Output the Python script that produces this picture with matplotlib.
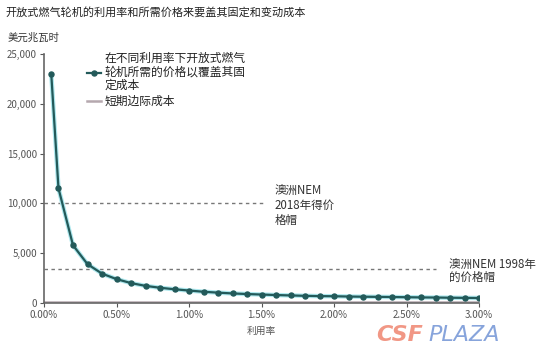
import matplotlib
matplotlib.use("Agg")
import matplotlib.pyplot as plt
from matplotlib.ticker import FuncFormatter, FixedLocator

plt.rcParams['font.family'] = ['Noto Sans CJK SC', 'DejaVu Sans']

# Data
utilization = [0.05, 0.1, 0.2, 0.3, 0.4, 0.5, 0.6, 0.7, 0.8, 0.9, 1.0,
               1.1, 1.2, 1.3, 1.4, 1.5, 1.6, 1.7, 1.8, 1.9, 2.0,
               2.1, 2.2, 2.3, 2.4, 2.5, 2.6, 2.7, 2.8, 2.9, 3.0]
required_price = [23000, 11500, 5800, 3900, 2950, 2400, 2000, 1720, 1530, 1380, 1250,
                  1130, 1040, 960, 900, 850, 800, 760, 720, 690, 680,
                  650, 630, 615, 600, 580, 560, 550, 530, 515, 500]
srmc = 80
cap_2018 = 10000
cap_1998 = 3400
x_ticks = [0.0, 0.5, 1.0, 1.5, 2.0, 2.5, 3.0]
y_ticks = [0, 5000, 10000, 15000, 20000, 25000]

title = "开放式燃气轮机的利用率和所需价格来要盖其固定和变动成本"
y_unit = "美元兆瓦时"
x_label = "利用率"
legend_main = "在不同利用率下开放式燃气\n轮机所需的价格以覆盖其固\n定成本"
legend_srmc = "短期边际成本"
label_2018 = "澳洲NEM\n2018年得价\n格帽"
label_1998 = "澳洲NEM 1998年\n的价格帽"

W, H = 552, 353
fig = plt.figure(figsize=(W/100, H/100), dpi=100)
ax = fig.add_axes([44/W, 1-303/H, (479-44)/W, (303-54)/H])

line_col = '#235a5a'
ax.plot(utilization, required_price, color='#aee8ee', lw=3.2, zorder=2, solid_capstyle='round')
ax.plot(utilization, required_price, color=line_col, lw=1.6, marker='o', ms=3.6,
        zorder=3, label=legend_main)
ax.plot([0, 3.0], [srmc, srmc], color='#b5a8ae', lw=1.8, zorder=2, label=legend_srmc)

ax.plot([0, 1.51], [cap_2018, cap_2018], ls=(0, (2.5, 2.5)), color='#777777', lw=1.0, zorder=1)
ax.plot([0, 2.7], [cap_1998, cap_1998], ls=(0, (2.5, 2.5)), color='#777777', lw=1.0, zorder=1)

ax.text(1.59, cap_2018 + 1950, label_2018, fontsize=8.3, color='#333333', va='top', ha='left',
        linespacing=1.2)
ax.text(2.79, cap_1998 + 1150, label_1998, fontsize=8.3, color='#333333', va='top', ha='left',
        linespacing=1.05)

ax.set_xlim(0, 3.0)
ax.set_ylim(0, 25000)
ax.xaxis.set_major_locator(FixedLocator(x_ticks))
ax.yaxis.set_major_locator(FixedLocator(y_ticks))
ax.xaxis.set_major_formatter(FuncFormatter(lambda v, p: f"{v:.2f}%"))
ax.yaxis.set_major_formatter(FuncFormatter(lambda v, p: f"{int(v):,}"))

for s in ['top', 'right']:
    ax.spines[s].set_visible(False)
for s in ['left', 'bottom']:
    ax.spines[s].set_color('#666666')
    ax.spines[s].set_linewidth(1.2)
ax.tick_params(axis='both', labelsize=7, colors='#555555', length=3, width=0.8, direction='out')
ax.tick_params(axis='x', pad=2)
ax.tick_params(axis='y', pad=2)

ax.set_xlabel(x_label, fontsize=7, color='#555555', labelpad=4)

leg = ax.legend(loc='upper left', bbox_to_anchor=(0.088, 1.026), frameon=False, fontsize=8.5,
                handlelength=1.2, handletextpad=0.3, labelspacing=0.25, borderaxespad=0)
for t in leg.get_texts():
    t.set_color('#222222')
    t.set_linespacing(1.05)

fig.text(5/W, 1-12/H, title, fontsize=8, color='#222222', va='center', ha='left')
fig.text(8/W, 1-38/H, y_unit, fontsize=7.5, color='#333333', va='center', ha='left')

# watermark
fig.text(376/W, 1-335/H, "CSF", fontsize=16, color='#f08c78', fontweight='bold',
         fontstyle='italic', va='center', ha='left', family='DejaVu Sans', alpha=0.9)
fig.text(428/W, 1-335/H, "PLAZA", fontsize=16, color='#7a9ad8', fontstyle='italic',
         va='center', ha='left', family='DejaVu Sans', alpha=0.9)

fig.savefig("out.png", dpi=100, facecolor='white')
